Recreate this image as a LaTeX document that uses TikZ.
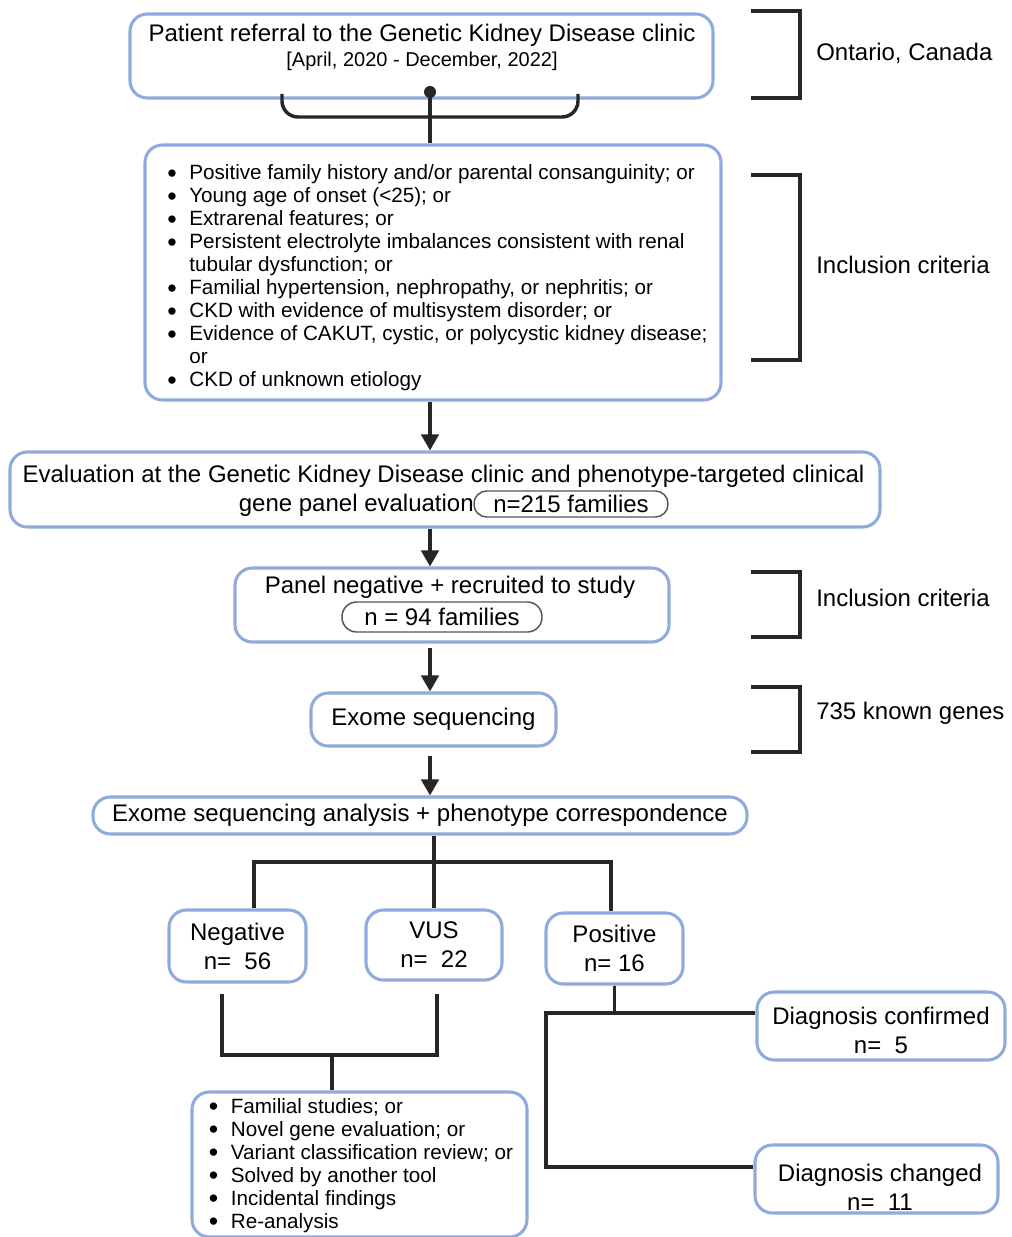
\documentclass[tikz,border=0pt]{standalone}
\usepackage{fontspec}
\setmainfont{Liberation Sans}
\usetikzlibrary{arrows.meta,calc}
\definecolor{boxblue}{HTML}{8FAADC}
\definecolor{ink}{HTML}{262626}
\definecolor{pillgray}{HTML}{555555}
\newcommand{\bul}{\smash{\raisebox{-1.7pt}{\scalebox{1.3}{\textbullet}}}}
\begin{document}
\begin{tikzpicture}[x=0.75pt,y=-0.75pt,
  wh/.style 2 args={minimum width=#1*0.75pt, minimum height=#2*0.75pt},
  box/.style={draw=boxblue, line width=2.3pt, rounded corners=13pt, fill=white,
    inner sep=0pt, align=center, font=\fontsize{18}{21.75}\selectfont},
  pill/.style={draw=pillgray, line width=1.1pt, rounded corners=9.5pt, fill=white,
    inner sep=0pt, font=\fontsize{18}{21.75}\selectfont},
  conn/.style={draw=ink, line width=2.6pt},
  arr/.style={conn, -{Triangle[width=13pt,length=12pt]}},
  txt/.style={inner sep=0pt, align=center, text=black, font=\fontsize{18}{21.75}\selectfont},
  lst/.style={inner sep=0pt, anchor=base west, text=black},
  ]
\useasboundingbox (0,0) rectangle (1011,1237);

% ---------- right brackets ----------
\draw[conn] (751,11) -- (800,11) -- (800,98) -- (751,98);
\node[txt, anchor=west] (lab1) at (816,53) {Ontario, Canada};
\draw[conn] (751,175) -- (800,175) -- (800,360) -- (751,360);
\node[txt, anchor=west] (lab2) at (816,265) {Inclusion criteria};
\draw[conn] (751,572) -- (800,572) -- (800,637) -- (751,637);
\node[txt, anchor=west] (lab3) at (816,598) {Inclusion criteria};
\draw[conn] (751,687) -- (800,687) -- (800,752) -- (751,752);
\node[txt, anchor=west] (lab4) at (816,713) {735 known genes};

% ---------- top box ----------
\node[box, wh={583}{84}] (ref) at (421.5,56) {};
\node[txt] (refT) at (422,35) {Patient referral to the Genetic Kidney Disease clinic};
\node[txt, font=\fontsize{15}{18}\selectfont] (refD) at (422,61) {[April, 2020 - December, 2022]};
\draw[conn, rounded corners=12pt] (282,94) -- (282,117) -- (578,117) -- (578,94);
\node[circle, fill=ink, inner sep=0pt, minimum size=9pt] (dot) at (430,92) {};

% ---------- criteria box ----------
\node[box, wh={576}{255}] (crit) at (433,272.5) {};
\draw[conn] (dot.center) -- (dot.center |- crit.north);
\node[lst] (critT) at (167,180) {\fontsize{15.5}{17.25}\selectfont
\begin{tabular}[t]{@{}l@{\hspace{9.5pt}}l@{}}
\bul & Positive family history and/or parental consanguinity; or\\
\bul & Young age of onset (<25); or\\
\bul & Extrarenal features; or\\
\bul & Persistent electrolyte imbalances consistent with renal\\
 & tubular dysfunction; or\\
\bul & Familial hypertension, nephropathy, or nephritis; or\\
\bul & CKD with evidence of multisystem disorder; or\\
\bul & Evidence of CAKUT, cystic, or polycystic kidney disease;\\
 & or\\
\bul & CKD of unknown etiology
\end{tabular}};

% ---------- evaluation box ----------
\node[box, wh={870}{75}] (ev) at (445,489.5) {};
\node[txt] (evT1) at (443.5,476) {Evaluation at the Genetic Kidney Disease clinic and phenotype-targeted clinical};
\node[txt, anchor=base east] (evT2) at (474,511) {gene panel evaluation};
\node[pill, wh={194}{26}] (n215) at (571,504) {n=215 families};
\draw[arr] (crit.south -| dot) -- (ev.north -| dot);

% ---------- panel negative ----------
\node[box, wh={434}{74}] (pn) at (452,605) {};
\node[txt] (pnT) at (450,587) {Panel negative + recruited to study};
\node[pill, wh={200}{30}, rounded corners=11pt] (n94) at (442,617) {n = 94 families};
\draw[arr] (ev.south -| dot) -- (pn.north -| dot);

% ---------- exome ----------
\node[box, wh={245}{53}] (ex) at (433.5,719.5) {Exome sequencing};
\draw[arr] ([yshift=-3pt]pn.south -| dot) -- (ex.north -| dot);
\node[box, wh={654}{37}] (an) at (420,815.5) {Exome sequencing analysis + phenotype correspondence};
\draw[arr] ([yshift=-6pt]ex.south -| dot) -- (an.north -| dot);

% ---------- results ----------
\node[box, wh={137}{72}] (neg) at (237.5,946) {Negative\\n=\ \ 56};
\node[box, wh={136}{70}] (vus) at (434,945) {VUS\\n=\ \ 22};
\node[box, wh={137}{71}] (pos) at (614.5,948.5) {Positive\\n= 16};
\coordinate (tj) at (434,862);
\coordinate (xl) at (254,862);
\coordinate (xr) at (611,862);
\draw[conn] (an.south -| tj) -- (vus.north -| tj);
\draw[conn] (neg.north -| xl) -- (xl) -- (xr) -- (pos.north -| xr);

% ---------- follow-up box ----------
\node[box, wh={335}{145}] (fu) at (359.5,1164.5) {};
\node[lst] (fuT) at (208.5,1113) {\fontsize{15.5}{17.25}\selectfont
\begin{tabular}[t]{@{}l@{\hspace{9.5pt}}l@{}}
\bul & Familial studies; or\\
\bul & Novel gene evaluation; or\\
\bul & Variant classification review; or\\
\bul & Solved by another tool\\
\bul & Incidental findings\\
\bul & Re-analysis
\end{tabular}};
\coordinate (xL) at (222,0);
\coordinate (xR) at (437,0);
\coordinate (jn) at (332,1055);
\coordinate (nb) at ([yshift=-7.5pt]neg.south);
\coordinate (vb) at ([yshift=-9pt]vus.south);
\draw[conn] (nb -| xL) -- (xL |- jn) -- (xR |- jn) -- (vb -| xR);
\draw[conn] (jn) -- (fu.north -| jn);

% ---------- diagnosis ----------
\node[box, wh={248}{68}] (dconf) at (881,1026) {};
\node[txt] (dconfT) at (881,1030.5) {Diagnosis confirmed\\n=\ \ 5};
\node[box, wh={243}{68}] (dchg) at (876.5,1179) {};
\node[txt] (dchgT) at (880,1187) {Diagnosis changed\\n=\ \ 11};
\coordinate (p1) at ([yshift=9.75pt]dconf.west);
\coordinate (p2) at ([yshift=9pt]dchg.west);
\coordinate (bx) at (546,0);
\draw[conn] (pos.south) -- (pos.south |- p1);
\draw[conn] (p1) -- (p1 -| bx) -- (p2 -| bx) -- (p2);
\end{tikzpicture}
\end{document}
